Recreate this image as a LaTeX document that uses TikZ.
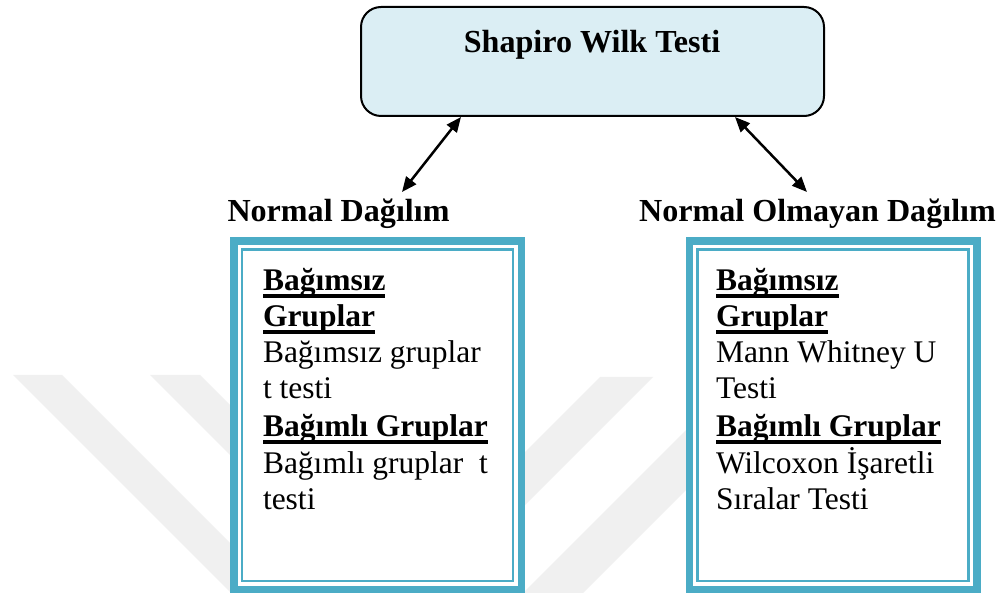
\documentclass[tikz,border=0pt]{standalone}
\usepackage{fontspec}
\setmainfont{Liberation Serif}
\usetikzlibrary{arrows.meta}

\definecolor{panelblue}{HTML}{4BACC6}
\definecolor{titlefill}{HTML}{DBEEF4}
\definecolor{markgray}{HTML}{F0F0F0}

% heavy underline, as a word processor draws it under large bold text
\newcommand\heavyul[1]{\setbox0\hbox{#1}\rlap{\rule[-6.7pt]{\wd0}{3.3pt}}\box0}

\tikzset{
  txt/.style={font=\fontsize{31.5}{36}\selectfont, inner sep=0pt, outer sep=0pt},
  boldtxt/.style={font=\fontsize{31.5}{36}\selectfont\bfseries, inner sep=0pt, outer sep=0pt},
  heading/.style={font=\fontsize{32.1}{38}\selectfont\bfseries, inner sep=0pt, outer sep=0pt, anchor=base},
  line/.style={txt, anchor=base west},
  headline/.style={boldtxt, anchor=base west},
  titlebox/.style={draw=black, line width=2pt, fill=titlefill, rounded corners=20pt,
    minimum width=463pt, minimum height=109pt, inner sep=0pt, outer sep=0pt},
  panel/.style={draw=panelblue, line width=7.5pt, fill=white,
    minimum width=287.5pt, minimum height=348pt, inner sep=0pt, outer sep=0pt},
  panelinner/.style={draw=panelblue, line width=2.2pt,
    minimum width=271pt, minimum height=331.5pt, inner sep=0pt, outer sep=0pt},
  link/.style={line width=2.5pt,
    arrows={Triangle[length=15pt,width=12.5pt]-Triangle[length=15pt,width=12.5pt]}},
  stripe/.style={fill=markgray, draw=none},
}

\begin{document}
\begin{tikzpicture}[x=1pt, y=-1pt]
  \useasboundingbox (0,0) rectangle (999,593);
  \fill[white] (0,0) rectangle (999,593);

  % faint chevron watermark
  \fill[stripe] (13,375) -- (62,375) -- (280,593) -- (231,593) -- cycle;
  \fill[stripe] (150,375) -- (200,375) -- (418,593) -- (368,593) -- cycle;
  \fill[stripe] (600,377) -- (653,377) -- (437,593) -- (384,593) -- cycle;
  \fill[stripe] (741,375) -- (801,375) -- (583,593) -- (523,593) -- cycle;

  % top box
  \node[titlebox] (top) at (592.5,61.5) {};
  \node[heading] (title) at (592,53) {Shapiro Wilk Testi};

  % headings
  \node[heading] (hleft) at (338.5,222) {Normal Dağılım};
  \node[heading] (hright) at (817.5,222) {Normal Olmayan Dağılım};

  % arrows
  \coordinate (lfoot) at (402,192);
  \coordinate (rfoot) at (807,192);
  \draw[link] ([xshift=-131.5pt,yshift=-1pt]top.south) -- (lfoot);
  \draw[link] ([xshift=142.5pt,yshift=-1pt]top.south) -- (rfoot);

  % left panel
  \node[panel] (lbox) at (377.5,415.25) {};
  \node[panelinner] (linner) at (lbox.center) {};
  \node[headline] (l1) at (263,291) {\heavyul{Bağımsız}};
  \node[headline] (l2) at (263,327) {\heavyul{Gruplar}};
  \node[line] (l3) at (263,363) {Bağımsız gruplar};
  \node[line] (l4) at (263,399) {t testi};
  \node[headline] (l5) at (263,437) {\heavyul{Bağımlı Gruplar}};
  \node[line] (l6) at (263,473) {Bağımlı gruplar\ \ t};
  \node[line] (l7) at (263,509) {testi};

  % right panel
  \node[panel] (rbox) at (833,415.25) {};
  \node[panelinner] (rinner) at (rbox.center) {};
  \node[headline] (r1) at (716,291) {\heavyul{Bağımsız}};
  \node[headline] (r2) at (716,327) {\heavyul{Gruplar}};
  \node[line] (r3) at (716,363) {Mann Whitney U};
  \node[line] (r4) at (716,399) {Testi};
  \node[headline] (r5) at (716,437) {\heavyul{Bağımlı Gruplar}};
  \node[line] (r6) at (716,473) {Wilcoxon İşaretli};
  \node[line] (r7) at (716,509) {Sıralar Testi};
\end{tikzpicture}
\end{document}
